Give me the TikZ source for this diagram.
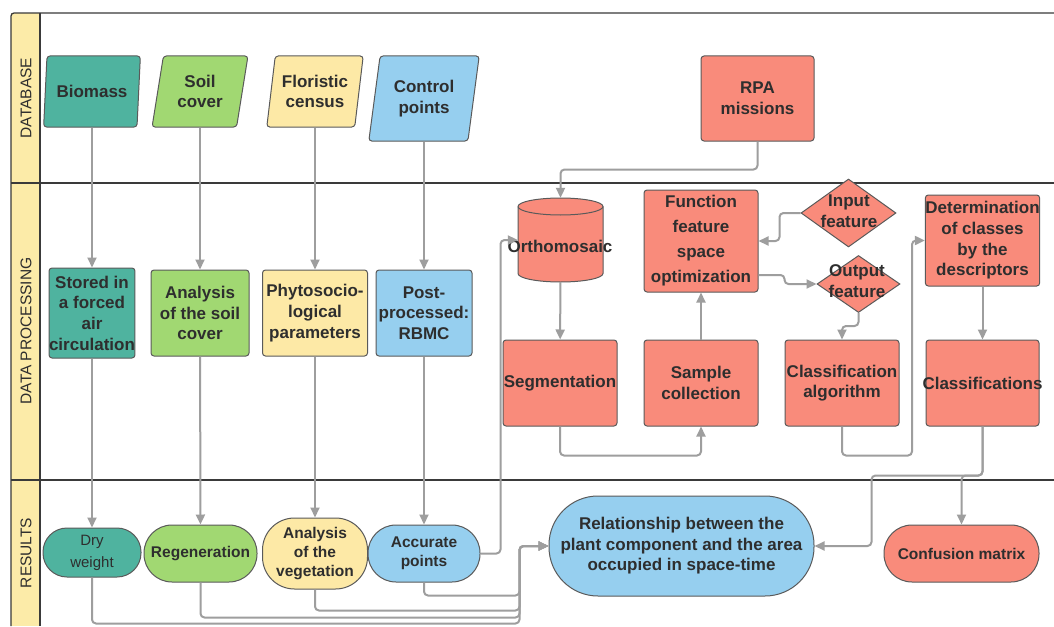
\documentclass[tikz,border=0pt]{standalone}
\usepackage{fontspec}
\setmainfont{Liberation Sans}
\usetikzlibrary{arrows.meta,shapes.geometric,calc}
\definecolor{cTeal}{HTML}{4FB39F}
\definecolor{cGreen}{HTML}{A1D872}
\definecolor{cYellow}{HTML}{FDE9A6}
\definecolor{cBlue}{HTML}{96CFEF}
\definecolor{cSalmon}{HTML}{F98B7B}
\definecolor{cLane}{HTML}{FCEBA8}
\definecolor{cLine}{HTML}{9E9E9E}
\definecolor{cBorder}{HTML}{5A5A5A}
\definecolor{cFrame}{HTML}{3A3A3A}
\definecolor{cText}{HTML}{2E2E2E}
\begin{document}
\begin{tikzpicture}[x=1pt,y=1pt,
  font=\fontsize{17}{20.7}\selectfont\bfseries,
  txt/.style={inner sep=0pt, align=center, text=cText},
  box/.style={txt, draw=cBorder, line width=1pt, rounded corners=3pt},
  para/.style={txt, trapezium, trapezium left angle=78, trapezium right angle=102,
    trapezium stretches=true, draw=cBorder, line width=1pt, rounded corners=3pt},
  stad/.style={txt, draw=cBorder, line width=1pt, font=\fontsize{15.5}{19}\selectfont\bfseries},
  dia/.style={diamond, draw=cBorder, line width=1pt, fill=cSalmon, inner sep=0pt},
  conn/.style={draw=cLine, line width=2pt, rounded corners=4pt, -{Triangle[length=10pt,width=9pt]}},
  frame/.style={draw=cFrame, line width=1.3pt},
  lanelbl/.style={txt, rotate=90, font=\fontsize{15.5}{18}\selectfont\mdseries}]
\useasboundingbox[fill=white] (0,0) rectangle (1054,-626);
% swimlane frame
\fill[cLane] (11,-13) rectangle (40,-626);
\draw[frame] (11,-183) -- (1054,-183);
\draw[frame] (11,-480) -- (1054,-480);
\draw[frame] (40,-13) -- (40,-626);
\draw[frame, rounded corners=3pt] (1054,-13) -- (11,-13) -- (11,-626);
\node[lanelbl] (lab1) at (26,-98) {DATABASE};
\node[lanelbl] (lab2) at (26,-331) {DATA PROCESSING};
\node[lanelbl] (lab3) at (26,-553) {RESULTS};
% database lane
\node[para, fill=cTeal, minimum width=97pt, minimum height=71pt] (bio) at (92,-91.5) {Biomass};
\node[para, fill=cGreen, minimum width=96pt, minimum height=71pt] (soil) at (200,-91.5) {Soil\\cover};
\node[para, fill=cYellow, minimum width=97pt, minimum height=71pt] (flor) at (315,-91.5) {Floristic\\census};
\node[para, fill=cBlue, minimum width=111pt, minimum height=85pt] (ctrl) at (424,-98.5) {Control\\points};
\node[box, fill=cSalmon, minimum width=113pt, minimum height=85pt] (rpa) at (757.5,-98.5) {RPA\\missions};
% data processing lane
\node[box, fill=cTeal, minimum width=85pt, minimum height=90pt] (stored) at (92,-313) {Stored in\\a forced\\air\\circulation};
\node[box, fill=cGreen, minimum width=98pt, minimum height=86pt] (ansoil) at (200,-313) {Analysis\\of the soil\\cover};
\node[box, fill=cYellow, minimum width=105pt, minimum height=86pt] (phyto) at (315,-313) {Phytosocio-\\logical\\parameters};
\node[box, fill=cBlue, minimum width=96pt, minimum height=86pt] (post) at (424,-313) {Post-\\processed:\\RBMC};
\node[inner sep=0pt, minimum width=85pt, minimum height=84pt] (orth) at (560.5,-240) {};
\path[fill=cSalmon, draw=cBorder, line width=1pt] (518,-206.5) -- (518,-273.5)
  arc[start angle=180, end angle=360, x radius=42.5, y radius=8.5] -- (603,-206.5)
  arc[start angle=0, end angle=180, x radius=42.5, y radius=8.5] -- cycle;
\draw[cBorder, line width=1pt] (518,-206.5) arc[start angle=180, end angle=360, x radius=42.5, y radius=8.5];
\node[txt] (orthtxt) at (560,-246) {Orthomosaic};
\node[box, fill=cSalmon, minimum width=114pt, minimum height=102pt, font=\fontsize{17}{25}\selectfont\bfseries] (func) at (701,-241) {Function\\feature\\space\\optimization};
\node[dia, minimum width=95pt, minimum height=68pt] (inp) at (848.5,-213) {};
\node[txt] (inptxt) at (849,-211) {Input\\feature};
\node[dia, minimum width=83pt, minimum height=57pt] (out) at (858.5,-284) {};
\node[txt] (outtxt) at (857,-281) {Output\\feature};
\node[box, fill=cSalmon, minimum width=113pt, minimum height=91pt] (det) at (982.5,-240.5) {Determination\\of classes\\by the\\descriptors};
\node[box, fill=cSalmon, minimum width=114pt, minimum height=86pt] (seg) at (560,-383) {Segmentation};
\node[box, fill=cSalmon, minimum width=114pt, minimum height=86pt] (sample) at (701,-383) {Sample\\collection};
\node[box, fill=cSalmon, minimum width=114pt, minimum height=86pt] (classalg) at (842,-383) {Classification\\algorithm};
\node[box, fill=cSalmon, minimum width=113pt, minimum height=86pt] (classif) at (982.5,-383) {\makebox[0pt]{Classifications}};
% results lane
\node[stad, fill=cTeal, minimum width=98pt, minimum height=49pt, rounded corners=24pt, font=\fontsize{15}{22}\selectfont\mdseries] (dry) at (92,-552.5) {Dry\\weight};
\node[stad, fill=cGreen, minimum width=113pt, minimum height=57pt, rounded corners=28pt] (regen) at (200.5,-553.5) {Regeneration};
\node[stad, fill=cYellow, minimum width=105pt, minimum height=71pt, rounded corners=32pt] (anveg) at (315,-553.5) {Analysis\\of the\\vegetation};
\node[stad, fill=cBlue, minimum width=112pt, minimum height=57pt, rounded corners=28pt] (acc) at (424,-553.5) {Accurate\\points};
\node[stad, fill=cBlue, minimum width=265pt, minimum height=100pt, rounded corners=49pt, font=\fontsize{17}{20.5}\selectfont\bfseries] (rel) at (681.5,-546) {Relationship between the\\plant component and the area\\occupied in space-time};
\node[stad, fill=cSalmon, minimum width=155pt, minimum height=57pt, rounded corners=28pt] (conf) at (961.5,-553.5) {Confusion matrix};
% connectors
\draw[conn] (bio) -- (stored);
\draw[conn] (stored) -- (dry);
\draw[conn] (soil) -- (ansoil);
\draw[conn] (ansoil) -- (regen);
\draw[conn] (flor) -- (phyto);
\draw[conn] (phyto) -- (anveg);
\draw[conn] (ctrl) -- (post);
\draw[conn] (post) -- (acc);
\draw[conn] (rpa.south) -- ++(0,-28) -| (orth.north);
\draw[conn] (acc.east) -- ++(20,0) |- (orth.west);
\draw[conn] (orth) -- (seg);
\draw[conn] (seg.south) -- ++(0,-29) -| (sample.south);
\draw[conn] (sample) -- (func);
\draw[conn] (inp.west) -- ++(-21,0) |- (func.east);
\draw[conn] ($(func.east)+(0,-34)$) -- ++(26,0) |- (out.west);
\draw[conn] (out.south) -- ++(0,-13) -| (classalg.north);
\draw[conn] (classalg.south) -- ++(0,-29) -- ++(70,0) |- (det.west);
\draw[conn] (det) -- (classif);
\draw[conn] (classif.south) -- ++(0,-49) -| (conf.north);
\draw[conn] (classif.south) -- ++(0,-49) -- ++(-111,0) |- (rel.east);
\draw[conn] (acc.south) -- ++(0,-13) -| ($(rel.west)+(-29,0)$) -- (rel.west);
\draw[conn] (anveg.south) -- ++(0,-21) -| ($(rel.west)+(-29,0)$) -- (rel.west);
\draw[conn] (regen.south) -- ++(0,-35) -| ($(rel.west)+(-29,0)$) -- (rel.west);
\draw[conn] (dry.south) -- ++(0,-46) -| ($(rel.west)+(-29,0)$) -- (rel.west);
\end{tikzpicture}
\end{document}
